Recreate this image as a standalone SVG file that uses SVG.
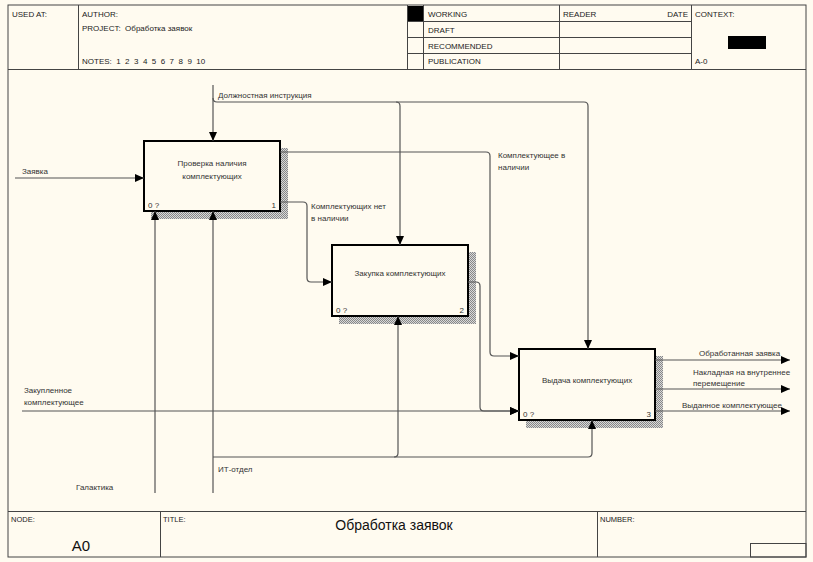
<svg xmlns="http://www.w3.org/2000/svg" width="813" height="562" viewBox="0 0 813 562">
<style>
text{font-family:"Liberation Sans",Arial,sans-serif;fill:#333;white-space:pre}
.s{font-size:8px}
.h{font-size:8px;fill:#222}
.frame{fill:none;stroke:#444;stroke-width:1}
.box{fill:#fffbf0;stroke:#000;stroke-width:2}
.c{fill:none;stroke:#555;stroke-width:1.2}
.a{marker-end:url(#arr)}
.shadow{fill:url(#hatch)}
</style>
<defs>
<pattern id="hatch" width="2" height="2" patternUnits="userSpaceOnUse">
<rect width="2" height="2" fill="#d8d8d8"/>
<rect width="1" height="1" fill="#888"/>
<rect x="1" y="1" width="1" height="1" fill="#888"/>
</pattern>
<marker id="arr" markerUnits="userSpaceOnUse" markerWidth="9" markerHeight="8" refX="9" refY="4" orient="auto">
<path d="M0,0 L9,4 L0,8 z" fill="#000"/>
</marker>
</defs>
<rect width="813" height="562" fill="#fffbf0"/>
<g id="frame">
<rect class="frame" x="8" y="5" width="798" height="552"/>
<line class="frame" x1="8" y1="69.5" x2="806" y2="69.5"/>
<line class="frame" x1="78.5" y1="5" x2="78.5" y2="69.5"/>
<line class="frame" x1="407.5" y1="5" x2="407.5" y2="69.5"/>
<line class="frame" x1="423.5" y1="5" x2="423.5" y2="69.5"/>
<line class="frame" x1="559.5" y1="5" x2="559.5" y2="69.5"/>
<line class="frame" x1="691.5" y1="5" x2="691.5" y2="69.5"/>
<line class="frame" x1="407.5" y1="21.5" x2="691.5" y2="21.5"/>
<line class="frame" x1="407.5" y1="37.5" x2="691.5" y2="37.5"/>
<line class="frame" x1="407.5" y1="53.5" x2="691.5" y2="53.5"/>
<rect x="408" y="6" width="15" height="15" fill="#000"/>
<rect x="728" y="36" width="38" height="13" fill="#000"/>
<text class="h" x="12" y="17">USED AT:</text>
<text class="h" x="82" y="17">AUTHOR:</text>
<text class="h" x="82" y="31">PROJECT:  Обработка заявок</text>
<text class="h" x="82" y="64">NOTES:  1  2  3  4  5  6  7  8  9  10</text>
<text class="h" x="428" y="17">WORKING</text>
<text class="h" x="428" y="33">DRAFT</text>
<text class="h" x="428" y="49">RECOMMENDED</text>
<text class="h" x="428" y="64">PUBLICATION</text>
<text class="h" x="563" y="17">READER</text>
<text class="h" x="688" y="17" text-anchor="end">DATE</text>
<text class="h" x="695" y="17">CONTEXT:</text>
<text class="h" x="695" y="64">A-0</text>
<line class="frame" x1="8" y1="511.5" x2="806" y2="511.5"/>
<line class="frame" x1="160.5" y1="511.5" x2="160.5" y2="557"/>
<line class="frame" x1="597.5" y1="511.5" x2="597.5" y2="557"/>
<rect class="frame" x="750.5" y="543.5" width="55.5" height="13.5"/>
<text x="11" y="522" style="font-size:7.5px;fill:#222">NODE:</text>
<text x="163" y="522" style="font-size:7.5px;fill:#222">TITLE:</text>
<text x="600" y="522" style="font-size:7.5px;fill:#222">NUMBER:</text>
<text x="394" y="530" text-anchor="middle" style="font-size:14px;fill:#111">Обработка заявок</text>
<text x="81" y="551" text-anchor="middle" style="font-size:15px;fill:#111">A0</text>
</g>
<g id="box1">
<rect class="shadow" x="280" y="148" width="8" height="71"/>
<rect class="shadow" x="151" y="211" width="137" height="8"/>
<rect class="box" x="144" y="141" width="136" height="70"/>
<text class="s" x="212" y="166" text-anchor="middle">Проверка наличия</text>
<text class="s" x="212" y="179" text-anchor="middle">комплектующих</text>
<text class="s" x="148" y="208">0 ?</text>
<text class="s" x="276" y="208" text-anchor="end">1</text>
</g>
<g id="box2">
<rect class="shadow" x="468" y="252" width="8" height="72"/>
<rect class="shadow" x="339" y="316" width="137" height="8"/>
<rect class="box" x="332" y="245" width="136" height="71"/>
<text class="s" x="400" y="276" text-anchor="middle">Закупка комплектующих</text>
<text class="s" x="336" y="313">0 ?</text>
<text class="s" x="464" y="313" text-anchor="end">2</text>
</g>
<g id="box3">
<rect class="shadow" x="655" y="356" width="8" height="72"/>
<rect class="shadow" x="526" y="420" width="137" height="8"/>
<rect class="box" x="519" y="349" width="136" height="71"/>
<text class="s" x="587" y="383" text-anchor="middle">Выдача комплектующих</text>
<text class="s" x="523" y="417">0 ?</text>
<text class="s" x="651" y="417" text-anchor="end">3</text>
</g>
<g id="connectors">
<path class="c a" d="M15,178 H144"/>
<path class="c a" d="M213,85 V141"/>
<path class="c a" d="M213,98 Q213,102 217,102 H396 Q400,102 400,106 V245"/>
<path class="c a" d="M396,102 H584 Q588,102 588,106 V349"/>
<path class="c a" d="M280,152 H486 Q490,152 490,156 V352 Q490,356 494,356 H519"/>
<path class="c a" d="M280,202 H303 Q307,202 307,206 V278 Q307,282 311,282 H332"/>
<path class="c a" d="M468,282 H476 Q480,282 480,286 V407 Q480,411 484,411 H519"/>
<path class="c a" d="M22,411 H519"/>
<path class="c a" d="M155,493 V211"/>
<path class="c a" d="M213,493 V211"/>
<path class="c a" d="M213,457 H394 Q398,457 398,453 V316"/>
<path class="c a" d="M394,457 H588 Q592,457 592,453 V420"/>
<path class="c a" d="M655,360 H790"/>
<path class="c a" d="M655,389 H790"/>
<path class="c a" d="M655,411 H790"/>
<text class="s" x="22" y="174">Заявка</text>
<text class="s" x="218" y="98">Должностная инструкция</text>
<text class="s" x="498" y="158">Комплектующее в</text>
<text class="s" x="498" y="170">наличии</text>
<text class="s" x="311" y="209">Комплектующих нет</text>
<text class="s" x="311" y="221">в наличии</text>
<text class="s" x="24" y="393">Закупленное</text>
<text class="s" x="24" y="405">комплектующее</text>
<text class="s" x="76" y="490">Галактика</text>
<text class="s" x="218" y="472">ИТ-отдел</text>
<text class="s" x="699" y="356">Обработанная заявка</text>
<text class="s" x="693" y="375">Накладная на внутреннее</text>
<text class="s" x="693" y="386">перемещение</text>
<text class="s" x="682" y="408">Выданное комплектующее</text>
</g>
</svg>
